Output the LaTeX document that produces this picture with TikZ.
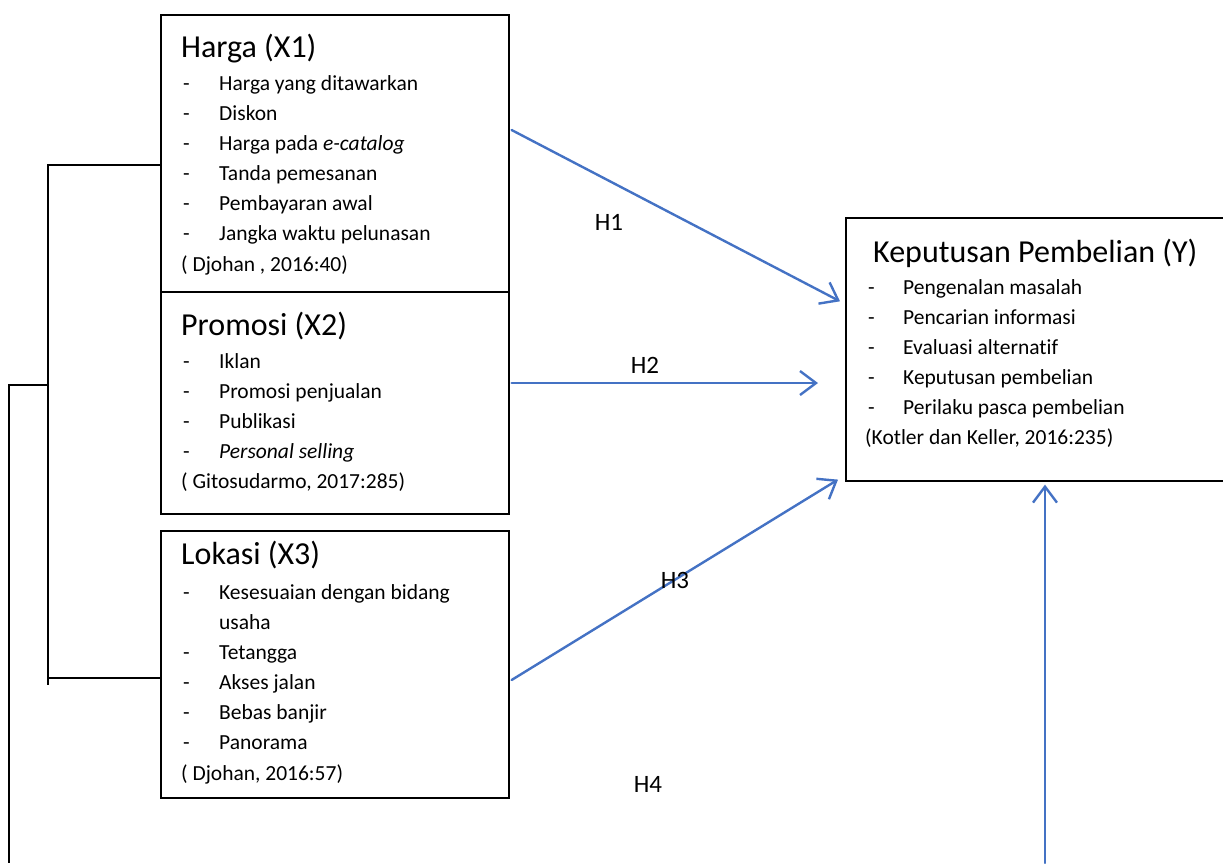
\documentclass[tikz,border=0pt]{standalone}
\usepackage{fontspec}
\setmainfont{Carlito}[Ligatures=NoCommon]
\usetikzlibrary{arrows.meta,calc}
\definecolor{arrowblue}{RGB}{68,114,196}
\tikzset{
  box/.style={draw=black,line width=1.6pt,anchor=north west,inner sep=0pt},
  title/.style={anchor=base west,inner sep=0pt,font=\fontsize{32}{38}\selectfont},
  item/.style={anchor=base west,inner sep=0pt,font=\fontsize{21.5}{26}\selectfont},
  conn/.style={draw=black,line width=1.6pt},
  harrow/.style={draw=arrowblue,line width=2.4pt,line cap=round,-{Straight Barb[length=16pt,width=24pt,line width=2.4pt]}},
  hlabel/.style={anchor=center,inner sep=0pt,font=\fontsize{25}{30}\selectfont}
}
\begin{document}
\begin{tikzpicture}[x=1pt,y=-1pt]
\useasboundingbox (0,0) rectangle (1223,863);
\clip (0,0) rectangle (1223,863);
% boxes
\node[box,minimum width=348pt,minimum height=277pt] (harga) at (160,14) {};
\node[box,minimum width=348pt,minimum height=222pt] (promosi) at (160,291) {};
\node[box,minimum width=348pt,minimum height=267pt] (lokasi) at (160,530) {};
\node[box,minimum width=400pt,minimum height=263pt] (kep) at (845,217) {};
% Harga
\node[title] (t1) at (181,57) {Harga (X1)};
\foreach \y/\t [count=\i] in {90/Harga yang ditawarkan,120/Diskon,150/Harga pada \textit{e-catalog},180/Tanda pemesanan,210/Pembayaran awal,240/Jangka waktu pelunasan}{
  \node[item] (h\i d) at (183,\y) {-};
  \node[item] (h\i) at (219,\y) {\t};
}
\node[item] (hc) at (181,271) {( Djohan , 2016:40)};
% Promosi
\node[title] (t2) at (181,335) {Promosi (X2)};
\foreach \y/\t [count=\i] in {368/Iklan,398/Promosi penjualan,428/Publikasi,458/\textit{Personal selling}}{
  \node[item] (p\i d) at (183,\y) {-};
  \node[item] (p\i) at (219,\y) {\t};
}
\node[item] (pc) at (181,488) {( Gitosudarmo, 2017:285)};
% Lokasi
\node[title] (t3) at (181,564) {Lokasi (X3)};
\foreach \y/\t [count=\i] in {599/Kesesuaian dengan bidang,659/Tetangga,689/Akses jalan,719/Bebas banjir,749/Panorama}{
  \node[item] (l\i d) at (183,\y) {-};
  \node[item] (l\i) at (219,\y) {\t};
}
\node[item] (l1b) at (219,629) {usaha};
\node[item] (lc) at (181,780) {( Djohan, 2016:57)};
% Keputusan
\node[title] (t4) at (873,262) {Keputusan Pembelian (Y)};
\foreach \y/\t [count=\i] in {294/Pengenalan masalah,324/Pencarian informasi,354/Evaluasi alternatif,384/Keputusan pembelian,414/Perilaku pasca pembelian}{
  \node[item] (k\i d) at (868,\y) {-};
  \node[item] (k\i) at (903,\y) {\t};
}
\node[item] (kc) at (865,444) {(Kotler dan Keller, 2016:235)};
% bracket
\coordinate (bt) at (48,165);
\coordinate (bb) at (48,685);
\coordinate (bm) at (48,385);
\coordinate (ob) at (9,863);
\coordinate (bl) at (48,678);
\draw[conn] (harga.west |- bt) -- (bt) -- (bb);
\draw[conn] (lokasi.west |- bl) -- (bl);
\draw[conn] (bm) -| (ob);
% arrows
\coordinate (a1s) at ($(harga.north east)+(2,116)$);
\coordinate (a1e) at ($(kep.west)+(-5,-48)$);
\coordinate (a2s) at ($(promosi.north east)+(2,92)$);
\coordinate (a2e) at (818,383);
\coordinate (a3s) at ($(lokasi.north east)+(2,150)$);
\coordinate (a3e) at ($(kep.south west)+(-7,-2)$);
\coordinate (a4s) at (1045,863);
\coordinate (a4e) at ($(kep.south west)+(200,3)$);
\draw[harrow] (a1s) -- (a1e);
\draw[harrow] (a2s) -- (a2e);
\draw[harrow] (a3s) -- (a3e);
\draw[harrow] (a4s) -- (a4e);
\node[hlabel] (H1) at (609,222) {H1};
\node[hlabel] (H2) at (645,365) {H2};
\node[hlabel] (H3) at (675,580) {H3};
\node[hlabel] (H4) at (648,784) {H4};
\end{tikzpicture}
\end{document}
